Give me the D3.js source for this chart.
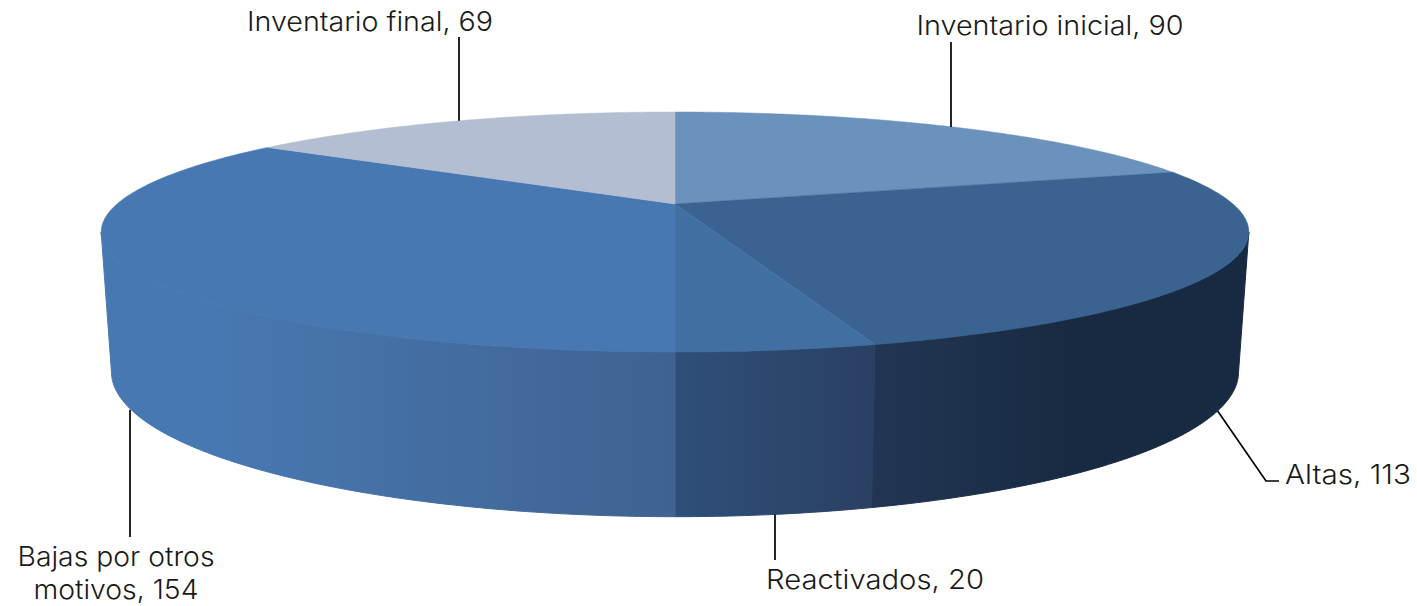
<!DOCTYPE html>
<html>
<head>
<meta charset="utf-8">
<script src="https://d3js.org/d3.v7.min.js"></script>
<style>
  html, body { margin: 0; background: #fff; }
  .lbl { font-family: Inter, sans-serif; font-weight: 300; font-size: 27px; fill: #1a1a1a; }
  .leader { fill: none; stroke: #000; stroke-width: 1.7px; }
</style>
</head>
<body>
<div id="chart"></div>
<script>
var categories = ["Inventario inicial", "Altas", "Reactivados", "Bajas por otros motivos", "Inventario final"];
var values = [90, 113, 20, 154, 69];

var topColors = ["#6b92bd", "#3a6391", "#426fa2", "#4878b1", "#b3bed2"];
var sideColors = [
  ["#3a6391", "#3a6391"],
  ["#223654", "#182a41"],
  ["#2f4f79", "#2a4063"],
  ["#3f6291", "#4878b1"],
  ["#b3bed2", "#b3bed2"]
];

var width = 1417, height = 606;
var cx = 675;

// two rims of the disc, both seen in perspective
var rimTop = {y0: 204, h: 113.5, k: 0.2333, r: 558};
var rimBottom = {y0: 338, h: 137, k: 0.2333, r: 548};

function project(rim, a) {
  var u = Math.sin(a), v = Math.cos(a), w = 1 + rim.k * v;
  return [cx + rim.r * u / w, rim.y0 - rim.h * v / w];
}

// angle at which the rim is widest, the side wall is only visible between these
var sideFrom = Math.acos(-rimTop.k), sideTo = 2 * Math.PI - sideFrom;

var slices = d3.pie().sort(null)(values);

var svg = d3.select("#chart").append("svg")
    .attr("width", width)
    .attr("height", height)
    .style("display", "block");

var defs = svg.append("defs");
var line = d3.line();

function arcAngles(a0, a1) {
  var n = Math.max(2, Math.ceil((a1 - a0) / 0.01));
  return d3.range(n + 1).map(function(i) { return a0 + (a1 - a0) * i / n; });
}

// side walls
slices.forEach(function(d, i) {
  var a0 = Math.max(d.startAngle, sideFrom), a1 = Math.min(d.endAngle, sideTo);
  if (a1 <= a0) return;
  var angles = arcAngles(a0, a1);
  var upper = angles.map(function(a) { return project(rimTop, a); });
  var lower = angles.map(function(a) { return project(rimBottom, a); }).reverse();
  var xs = upper.concat(lower).map(function(p) { return p[0]; });

  var grad = defs.append("linearGradient")
      .attr("id", "side" + i)
      .attr("gradientUnits", "userSpaceOnUse")
      .attr("x1", i == 3 ? d3.max(xs) : d3.min(xs))
      .attr("x2", i == 3 ? d3.min(xs) : d3.max(xs))
      .attr("y1", 0).attr("y2", 0);
  grad.append("stop").attr("offset", 0).attr("stop-color", sideColors[i][0]);
  grad.append("stop").attr("offset", i == 1 ? 0.55 : (i == 3 ? 0.8 : 1)).attr("stop-color", sideColors[i][1]);

  svg.append("path")
      .attr("class", "side")
      .attr("d", line(upper.concat(lower)) + "Z")
      .attr("fill", "url(#side" + i + ")")
      .attr("stroke", "url(#side" + i + ")")
      .attr("stroke-width", 1);
});

// top face
svg.selectAll(".slice")
    .data(slices)
    .enter().append("path")
    .attr("class", "slice")
    .attr("fill", function(d, i) { return topColors[i]; })
    .attr("stroke", function(d, i) { return topColors[i]; })
    .attr("stroke-width", 0.5)
    .attr("d", function(d) {
      var pts = arcAngles(d.startAngle, d.endAngle).map(function(a) { return project(rimTop, a); });
      return line([[cx, rimTop.y0]].concat(pts)) + "Z";
    });

// leader lines start at the middle of each slice
var mid = function(d) { return (d.startAngle + d.endAngle) / 2; };
var leaders = [
  {slice: 0, rim: rimTop, to: [[951, 42]]},
  {slice: 1, rim: rimBottom, to: [[1266, 481], [1279, 481]]},
  {slice: 2, rim: rimBottom, to: [[775, 560]]},
  {slice: 3, rim: rimBottom, to: [[130, 537]]},
  {slice: 4, rim: rimTop, to: [[459, 37]]}
];
leaders.forEach(function(l) {
  var start = project(l.rim, mid(slices[l.slice]));
  if (l.to.length == 1) start = [l.to[0][0], start[1]];
  svg.append("path")
      .attr("class", "leader")
      .attr("d", line([start].concat(l.to)));
});

// labels
var labels = [
  {i: 0, x: 1050, y: 35, anchor: "middle", len: 267},
  {i: 1, x: 1285, y: 484, anchor: "start", len: 126},
  {i: 2, x: 875, y: 589, anchor: "middle", len: 218},
  {i: 4, x: 370, y: 31, anchor: "middle", len: 246}
];
labels.forEach(function(l) {
  svg.append("text")
      .attr("class", "lbl")
      .attr("x", l.x).attr("y", l.y)
      .attr("text-anchor", l.anchor)
      .attr("textLength", l.len)
      .attr("lengthAdjust", "spacingAndGlyphs")
      .text(categories[l.i] + ", " + values[l.i]);
});
// this one wraps on two lines
svg.append("text").attr("class", "lbl")
    .attr("x", 116).attr("y", 566)
    .attr("text-anchor", "middle").attr("textLength", 197)
    .attr("lengthAdjust", "spacingAndGlyphs")
    .text("Bajas por otros");
svg.append("text").attr("class", "lbl")
    .attr("x", 116).attr("y", 599)
    .attr("text-anchor", "middle").attr("textLength", 165)
    .attr("lengthAdjust", "spacingAndGlyphs")
    .text("motivos, " + values[3]);
</script>
</body>
</html>
